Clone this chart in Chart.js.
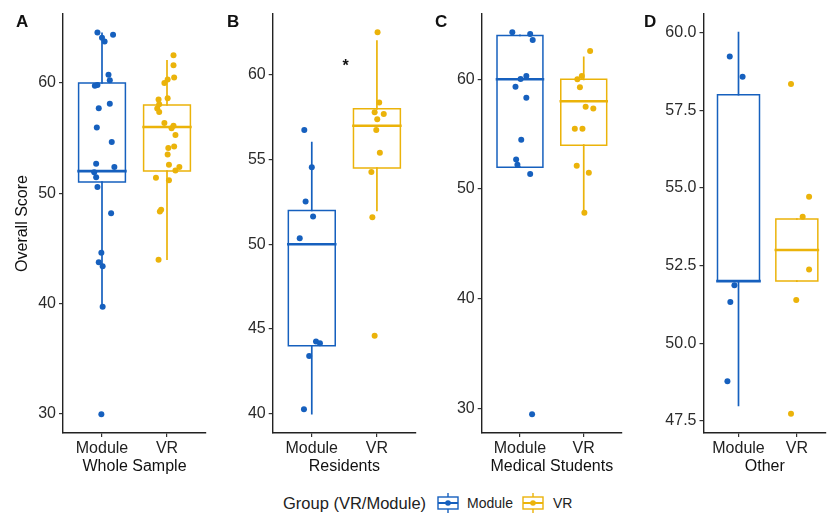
<!DOCTYPE html>
<html><head><meta charset="utf-8">
<script src="https://cdn.jsdelivr.net/npm/chart.js@4.4.1/dist/chart.umd.min.js"></script>
<style>
html,body{margin:0;padding:0;background:#fff;width:830px;height:515px;overflow:hidden;font-family:"Liberation Sans",Arial,sans-serif;}
.panel{position:absolute;top:0;height:480px;}
.letter{position:absolute;top:14px;font-weight:bold;font-size:17px;line-height:16px;color:#111;}
.lg{position:absolute;color:#222;white-space:nowrap;}
</style>
</head><body>
<div class="panel" id="pA" style="left:0;width:210px"><canvas id="cA" width="210" height="480"></canvas></div>
<div class="panel" id="pB" style="left:210px;width:210px"><canvas id="cB" width="210" height="480"></canvas></div>
<div class="panel" id="pC" style="left:420px;width:206px"><canvas id="cC" width="206" height="480"></canvas></div>
<div class="panel" id="pD" style="left:625px;width:205px"><canvas id="cD" width="205" height="480"></canvas></div>
<div class="letter" style="left:16px">A</div>
<div class="letter" style="left:227px">B</div>
<div class="letter" style="left:435px">C</div>
<div class="letter" style="left:644px">D</div>
<div class="lg" style="left:283px;top:493px;font-size:16.5px;line-height:20px">Group (VR/Module)</div>
<svg class="lg" style="left:437px;top:493px" width="22" height="20"><rect x="1" y="4" width="20" height="12" fill="none" stroke="#1660BE" stroke-width="1.4"/><line x1="11" y1="0" x2="11" y2="4" stroke="#1660BE" stroke-width="1.4"/><line x1="11" y1="16" x2="11" y2="20" stroke="#1660BE" stroke-width="1.4"/><line x1="1" y1="10" x2="21" y2="10" stroke="#1660BE" stroke-width="2"/><circle cx="11" cy="10" r="2.8" fill="#1660BE"/></svg>
<div class="lg" style="left:467px;top:494px;font-size:14px;line-height:18px">Module</div>
<svg class="lg" style="left:522px;top:493px" width="22" height="20"><rect x="1" y="4" width="20" height="12" fill="none" stroke="#EBB30A" stroke-width="1.4"/><line x1="11" y1="0" x2="11" y2="4" stroke="#EBB30A" stroke-width="1.4"/><line x1="11" y1="16" x2="11" y2="20" stroke="#EBB30A" stroke-width="1.4"/><line x1="1" y1="10" x2="21" y2="10" stroke="#EBB30A" stroke-width="2"/><circle cx="11" cy="10" r="2.8" fill="#EBB30A"/></svg>
<div class="lg" style="left:553px;top:494px;font-size:14px;line-height:18px">VR</div>
<script>
// ---------- data ----------
const groups = ['Module', 'VR'];
const panelTitles = ['Whole Sample', 'Residents', 'Medical Students', 'Other'];
const yAxisTitle = 'Overall Score';

// box stats: [lower whisker, Q1, median, Q3, upper whisker]
const aModuleBox = [39.7, 51, 52, 60, 64.5];
const aVRBox     = [44, 52, 56, 58, 62];
const bModuleBox = [40, 44, 50, 52, 56];
const bVRBox     = [52, 54.5, 57, 58, 62];
const cModuleBox = [52, 52, 60, 64, 64];
const cVRBox     = [47.8, 54, 58, 60, 62];
const dModuleBox = [48, 52, 52, 58, 60];
const dVRBox     = [52, 52, 53, 54, 54];

// individual scores and their horizontal jitter (category units)
const aModuleScores = [64.58,64.36,64.1,63.76,60.73,60.25,59.82,59.73,57.7,58.1,55.95,54.64,52.67,52.36,51.9,51.45,50.55,48.18,44.6,43.73,43.36,39.7,29.95];
const aModuleJitter = [-0.07,0.17,0,0.04,0.10,0.12,-0.07,-0.11,-0.05,0.12,-0.08,0.15,-0.09,0.19,-0.12,-0.09,-0.07,0.14,-0.01,-0.05,0.01,0.01,-0.01];
const aVRScores = [62.5,61.6,60.5,60.3,60.0,58.6,58.5,58.07,57.67,57.36,56.36,56.12,55.88,55.27,54.24,54.1,53.5,52.58,52.36,52.06,51.4,51.16,48.5,48.34,43.95];
const aVRJitter = [0.10,0.10,0.11,0.01,-0.04,0.01,-0.13,-0.12,-0.15,-0.12,-0.04,0.10,0.07,0.13,0.11,0.02,0.01,0.03,0.19,0.13,-0.17,0.03,-0.09,-0.11,-0.13];

const bModuleScores = [56.75,54.55,52.52,51.64,50.35,44.25,44.15,43.4,40.26];
const bModuleJitter = [-0.115,0,-0.095,0.02,-0.185,0.065,0.125,-0.04,-0.12];
const bVRScores = [62.52,58.37,57.8,57.7,57.38,56.75,55.41,54.27,51.6,44.59];
const bVRJitter = [0.01,0.035,-0.035,0.105,0.005,-0.01,0.045,-0.085,-0.07,-0.035];

const cModuleScores = [64.29,64.13,63.59,60.3,60.03,59.33,58.33,54.5,52.7,52.22,51.37,29.48];
const cModuleJitter = [-0.12,0.16,0.2,0.1,0.01,-0.07,0.1,0.02,-0.06,-0.04,0.16,0.19];
const cVRScores = [62.58,60.3,60.0,59.27,57.51,57.33,55.5,55.5,52.13,51.49,47.84];
const cVRJitter = [0.1,-0.03,-0.1,-0.06,0.03,0.15,-0.14,-0.02,-0.11,0.08,0.01];

const dModuleScores = [59.23,58.58,51.87,51.33,48.78];
const dModuleJitter = [-0.15,0.07,-0.07,-0.14,-0.19];
const dVRScores = [58.35,54.72,54.07,52.37,51.39,47.73];
const dVRJitter = [-0.1,0.21,0.1,0.21,-0.01,-0.1];

// y tick labels
const aYTicks = [30, 40, 50, 60];
const bYTicks = [40, 45, 50, 55, 60];
const cYTicks = [30, 40, 50, 60];
const dYTicks = [47.5, 50.0, 52.5, 55.0, 57.5, 60.0];

// significance marker (panel B)
const bSignif = {label: '*', x: 1.52, y: 60.7};

// ---------- styles ----------
const BLUE = '#1660BE', GOLD = '#EBB30A';
const BOX_HALF = 0.36;
const FONT = '"Liberation Sans", Arial, sans-serif';
const FS = 16;

function boxDatasets(stats, xc, color) {
  const [lo, q1, med, q3, hi] = stats;
  const hw = BOX_HALF;
  const line = (pts, w) => ({data: pts, showLine: true, borderColor: color, borderWidth: w,
    pointRadius: 0, fill: false, tension: 0, borderCapStyle: 'square', borderJoinStyle: 'miter'});
  return [
    line([{x: xc - hw, y: med}, {x: xc + hw, y: med}], 2.6),
    line([{x: xc - hw, y: q1}, {x: xc + hw, y: q1}, {x: xc + hw, y: q3}, {x: xc - hw, y: q3}, {x: xc - hw, y: q1}], 1.5),
    line([{x: xc, y: q3}, {x: xc, y: hi}], 1.7),
    line([{x: xc, y: lo}, {x: xc, y: q1}], 1.7)
  ];
}
function pointDataset(scores, jitter, xc, color) {
  return {data: scores.map((v, i) => ({x: xc + jitter[i], y: v})), showLine: false,
    pointRadius: 3, pointBackgroundColor: color, pointBorderWidth: 0, pointBorderColor: color};
}

const signifPlugin = {
  id: 'signif',
  afterDatasetsDraw(chart, args, opts) {
    if (!opts || !opts.label) return;
    const ctx = chart.ctx;
    ctx.save();
    ctx.font = 'bold 16px ' + FONT;
    ctx.fillStyle = '#111';
    ctx.textAlign = 'center';
    ctx.textBaseline = 'middle';
    ctx.fillText(opts.label, chart.scales.x.getPixelForValue(opts.x), chart.scales.y.getPixelForValue(opts.y) + 3);
    ctx.restore();
  }
};

function makePanel(canvasId, cfg) {
  const datasets = [
    pointDataset(cfg.modScores, cfg.modJitter, 1, BLUE),
    pointDataset(cfg.vrScores, cfg.vrJitter, 2, GOLD),
    ...boxDatasets(cfg.modBox, 1, BLUE),
    ...boxDatasets(cfg.vrBox, 2, GOLD)
  ];
  const axisGrid = {drawOnChartArea: false, drawTicks: true, tickLength: 4, color: '#333', lineWidth: 1.2};
  const axisBorder = {display: true, color: '#222', width: 1.4};
  return new Chart(document.getElementById(canvasId), {
    type: 'scatter',
    data: {datasets},
    plugins: [signifPlugin],
    options: {
      responsive: false, animation: false, devicePixelRatio: 1, events: [],
      layout: {padding: {top: 14, right: cfg.padRight, left: 0, bottom: 0}},
      plugins: {legend: {display: false}, tooltip: {enabled: false}, signif: cfg.signif || {}},
      scales: {
        x: {
          type: 'linear', min: 0.4, max: cfg.xMax,
          afterBuildTicks: s => { s.ticks = groups.map((g, i) => ({value: i + 1})); },
          ticks: {callback: v => groups[Math.round(v) - 1], color: '#222', font: {size: FS, family: FONT}, padding: 2, autoSkip: false, maxRotation: 0},
          grid: axisGrid, border: axisBorder,
          title: {display: true, text: cfg.title, color: '#111', font: {size: FS, family: FONT}, padding: {top: 0, bottom: 4}},
          afterFit: s => { s.height = 47; }
        },
        y: {
          type: 'linear', min: cfg.yMin, max: cfg.yMax,
          afterBuildTicks: s => { s.ticks = cfg.yTicks.map(v => ({value: v})); },
          ticks: {callback: v => cfg.yFmt(v), color: '#2b2b2b', font: {size: FS, family: FONT}, padding: 3},
          grid: axisGrid, border: axisBorder,
          title: {display: !!cfg.yTitle, text: cfg.yTitle || '', color: '#111', font: {size: FS, family: FONT}, padding: {top: 13, bottom: 0}},
          afterFit: s => { s.width = cfg.yWidth; }
        }
      }
    }
  });
}

const intFmt = v => String(Math.round(v));
const oneDec = v => v.toFixed(1);

makePanel('cA', {modScores: aModuleScores, modJitter: aModuleJitter, vrScores: aVRScores, vrJitter: aVRJitter,
  modBox: aModuleBox, vrBox: aVRBox, title: panelTitles[0], yTitle: yAxisTitle, yTicks: aYTicks, yFmt: intFmt,
  yMin: 28.24, yMax: 66.25, yWidth: 63, padRight: 2, xMax: 2.6});
makePanel('cB', {modScores: bModuleScores, modJitter: bModuleJitter, vrScores: bVRScores, vrJitter: bVRJitter,
  modBox: bModuleBox, vrBox: bVRBox, title: panelTitles[1], yTicks: bYTicks, yFmt: intFmt,
  yMin: 38.85, yMax: 63.6, yWidth: 62.7, padRight: 1, xMax: 2.6, signif: bSignif});
makePanel('cC', {modScores: cModuleScores, modJitter: cModuleJitter, vrScores: cVRScores, vrJitter: cVRJitter,
  modBox: cModuleBox, vrBox: cVRBox, title: panelTitles[2], yTicks: cYTicks, yFmt: intFmt,
  yMin: 27.78, yMax: 65.95, yWidth: 61.7, padRight: 0, xMax: 2.6});
makePanel('cD', {modScores: dModuleScores, modJitter: dModuleJitter, vrScores: dVRScores, vrJitter: dVRJitter,
  modBox: dModuleBox, vrBox: dVRBox, title: panelTitles[3], yTicks: dYTicks, yFmt: oneDec,
  yMin: 47.11, yMax: 60.6, yWidth: 78.5, padRight: 0, xMax: 2.5});
</script>
</body></html>
